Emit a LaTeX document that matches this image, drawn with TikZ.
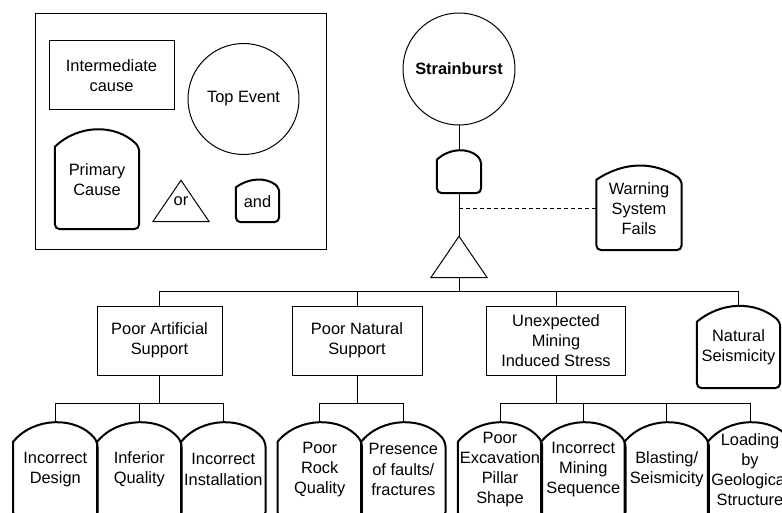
\documentclass[tikz,border=0pt]{standalone}
\usepackage{fontspec}
\setmainfont{Liberation Sans}
\usetikzlibrary{calc}

% outline of a primary cause / and gate: straight sides, rounded foot, arched top
\newcommand\primout[2]{% #1 node, #2 height of the arch
  \draw[prim] let \p1=(#1.north west), \p2=(#1.north east) in
    ($(#1.north west)+(0,#2)$) [rounded corners=5pt] -- (#1.south west)
    -- (#1.south east) -- ($(#1.north east)+(0,#2)$) [sharp corners]
    to[bend right={2*atan(2*#2/(\x2-\x1))}] ($(#1.north west)+(0,#2)$) -- cycle;}

\begin{document}
\begin{tikzpicture}[x=1pt,y=-1pt,
  txt/.style={font=\fontsize{16.4}{20.2}\selectfont,align=center,inner sep=0pt},
  box/.style={txt,draw,line width=1pt,minimum width=125pt,minimum height=69pt},
  ev/.style={txt,circle,draw,line width=1pt,minimum size=112pt},
  basic/.style={txt,minimum width=84pt,minimum height=95pt},
  gate/.style={txt,minimum width=56pt,minimum height=41pt},
  wire/.style={line width=1pt},
  prim/.style={line width=2pt,line join=round}]

\path[use as bounding box,clip] (0,0) rectangle (782,513);

%% legend
\node[draw,line width=1pt,minimum width=291pt,minimum height=236pt] (legend) at (180.5,131.5) {};
\node[box] (lint) at (111.5,75.5) {Intermediate\\cause};
\node[ev,minimum size=111pt] (ltop) at (243.5,99) {Top Event};
\node[basic,minimum height=99pt] (lprim) at (97,179.5) {Primary\\Cause};
\node[gate] (lor) at (181,201) {or};
\node[basic,minimum width=43pt,minimum height=41.5pt] (land) at (257.5,201.3) {and};

%% top event and its gates
\node[ev] (strain) at (459,69) {\textbf{Strainburst}};
\node[basic,minimum width=44pt,minimum height=42pt] (andg) at (459,172) {};
\node[gate] (org) at (459,257) {};
\node[basic,minimum width=85pt,minimum height=83pt] (warn) at (639,208.5) {Warning\\System\\Fails};

%% intermediate causes
\node[box] (artif) at (159.5,340.5) {Poor Artificial\\Support};
\node[box,minimum width=130pt] (natur) at (357,340.5) {Poor Natural\\Support};
\node[box,minimum width=139pt] (stress) at (556,340.5) {Unexpected\\Mining\\Induced Stress};
\node[basic,minimum width=83pt,minimum height=81pt] (seism) at (738.5,347.5) {Natural\\Seismicity};

%% primary causes
\foreach \n/\x/\lbl in {design/55.3/{Incorrect\\Design}, quality/139.3/{Inferior\\Quality},
    install/223.3/{Incorrect\\Installation}, rock/319.7/{Poor\\Rock\\Quality},
    faults/403.3/{Presence\\of faults/\\fractures}, pillar/500/{Poor\\Excavation\\Pillar\\Shape},
    sequence/583.3/{Incorrect\\Mining\\Sequence}, blast/666.7/{Blasting/\\Seismicity},
    loading/750/{Loading\\by\\Geological\\Structure}}
  \node[basic] (\n) at (\x,469.5) {\lbl};

%% outlines
\foreach \s/\r in {lprim/17, land/7, andg/9, warn/13, seism/15, design/20, quality/20,
    install/20, rock/20, faults/20, pillar/20, sequence/20, blast/20, loading/20}
  \primout{\s}{\r};
\foreach \g in {lor,org}
  \draw[wire] (\g.north) -- (\g.south east) -- (\g.south west) -- cycle;

%% connectors
\draw[wire] (strain.south) -- (andg.north);
\draw[wire] (andg.south) -- (org.north);
\coordinate (wj) at ($(andg.south)+(0,15)$);
\draw[wire,dash pattern=on 4pt off 3pt] (wj) -- (wj -| warn.west);
\coordinate (bus) at ($(org.south)+(0,13.5)$);
\draw[wire] (org.south) -- (bus);
\foreach \c in {artif,natur,stress,seism}
  \draw[wire] (bus) -| (\c.north);
\foreach \p/\kids in {artif/{design,quality,install}, natur/{rock,faults},
    stress/{pillar,sequence,blast,loading}} {
  \coordinate (\p b) at ($(\p.south)+(0,28)$);
  \draw[wire] (\p.south) -- (\p b);
  \foreach \k in \kids
    \draw[wire] (\p b) -| (\k.north);
}
\end{tikzpicture}
\end{document}
